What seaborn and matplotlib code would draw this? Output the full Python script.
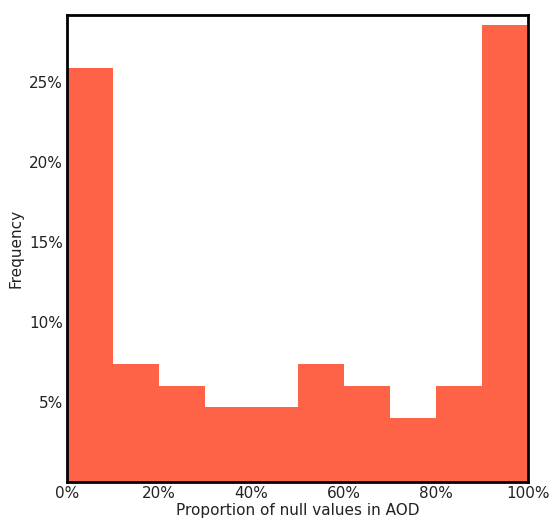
import numpy as np
import pandas as pd
import seaborn as sns
import matplotlib.pyplot as plt
from matplotlib.ticker import PercentFormatter

# share of stations (%) in each 10% bin of missing AOD values
bin_centers = [0.05, 0.15, 0.25, 0.35, 0.45, 0.55, 0.65, 0.75, 0.85, 0.95]
freq_pct = [25.9, 7.4, 6.0, 4.7, 4.7, 7.4, 6.0, 4.0, 6.0, 28.6]
x_ticks = [0.0, 0.2, 0.4, 0.6, 0.8, 1.0]
y_ticks = [5, 10, 15, 20, 25]

df = pd.DataFrame({"null_prop": bin_centers, "pct": freq_pct})

sns.set_style("white")
plt.rcParams["font.family"] = ["DejaVu Sans"]

fig = plt.figure(figsize=(5.5, 5.19), dpi=100)
ax = fig.add_axes([0.122, 0.071, 0.838, 0.9])

sns.histplot(data=df, x="null_prop", weights="pct", bins=10, binrange=(0, 1),
             color="#FF6347", alpha=1, linewidth=0, ax=ax)

ax.set_xlim(0, 1)
ax.set_ylim(0, 29.2)
ax.set_xticks(x_ticks)
ax.set_yticks(y_ticks)
ax.xaxis.set_major_formatter(PercentFormatter(1.0, decimals=0))
ax.yaxis.set_major_formatter(PercentFormatter(100, decimals=0))
ax.tick_params(length=0, labelsize=11, pad=3, labelcolor="#222222")
ax.set_xlabel("Proportion of null values in AOD", fontsize=11, labelpad=1, color="#222222")
ax.set_ylabel("Frequency", fontsize=11, color="#222222")
for s in ax.spines.values():
    s.set_color("black")
    s.set_linewidth(2)

fig.savefig("out.png", dpi=100)
